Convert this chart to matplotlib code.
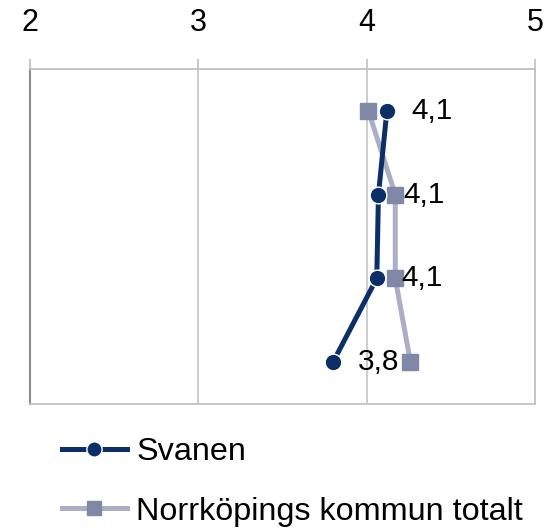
import numpy as np
import matplotlib.pyplot as plt
from matplotlib.lines import Line2D

plt.rcParams['font.family'] = ['Liberation Sans', 'DejaVu Sans']

# rows from top to bottom (category labels are not shown in the chart)
rows = [0, 1, 2, 3]
svanen = [4.12, 4.07, 4.06, 3.80]
norrkoping = [4.01, 4.17, 4.17, 4.26]
svanen_labels = ['4,1', '4,1', '4,1', '3,8']
xticks = [2, 3, 4, 5]

navy = '#0b2f66'
grey_line = '#a9b0c6'
grey_marker = '#8088a8'

fig = plt.figure(figsize=(5.49, 5.30), dpi=100)
ax = fig.add_axes([30/549, 1-404/530, 505/549, 335/530])

ax.plot(norrkoping, rows, color=grey_line, lw=3.6, marker='s', ms=11,
        mfc=grey_marker, mec=grey_marker, zorder=3, label='Norrköpings kommun totalt')
ax.plot(svanen, rows, color=navy, lw=3.6, marker='o', ms=12,
        mfc=navy, mec='white', mew=1, zorder=4, label='Svanen')

for v, r, t in zip(svanen, rows, svanen_labels):
    ax.annotate(t, (v, r), xytext=(18, 0), textcoords='offset points',
                ha='left', va='center', fontsize=21.5, zorder=5)

ax.set_xlim(2, 5)
ax.set_ylim(3.5, -0.5)
ax.set_xticks(xticks)
ax.set_xticklabels([str(x) for x in xticks])
ax.set_yticks([])
ax.xaxis.tick_top()
ax.tick_params(axis='x', direction='out', length=7, width=1.2, color='#bfbfbf',
               labelsize=22, pad=15)
ax.grid(axis='x', color='#c8c8c8', lw=1.3)
ax.set_axisbelow(True)
for side in ['top', 'right', 'bottom']:
    ax.spines[side].set_color('#c0c0c0')
    ax.spines[side].set_linewidth(1.3)
ax.spines['left'].set_color('#8c8c8c')
ax.spines['left'].set_linewidth(1.5)

handles = [
    Line2D([], [], color=navy, lw=3.6, marker='o', ms=11, mfc=navy, mec='white', mew=1),
    Line2D([], [], color=grey_line, lw=3.6, marker='s', ms=10, mfc=grey_marker, mec=grey_marker),
]
fig.legend(handles, ['Svanen', 'Norrköpings kommun totalt'], loc='upper left',
           bbox_to_anchor=(62/549, 1-437/530), frameon=False, fontsize=23.3,
           handlelength=2.0, handletextpad=0.3, labelspacing=0.92, borderaxespad=0,
           borderpad=0)

plt.savefig('out.png', dpi=100)
